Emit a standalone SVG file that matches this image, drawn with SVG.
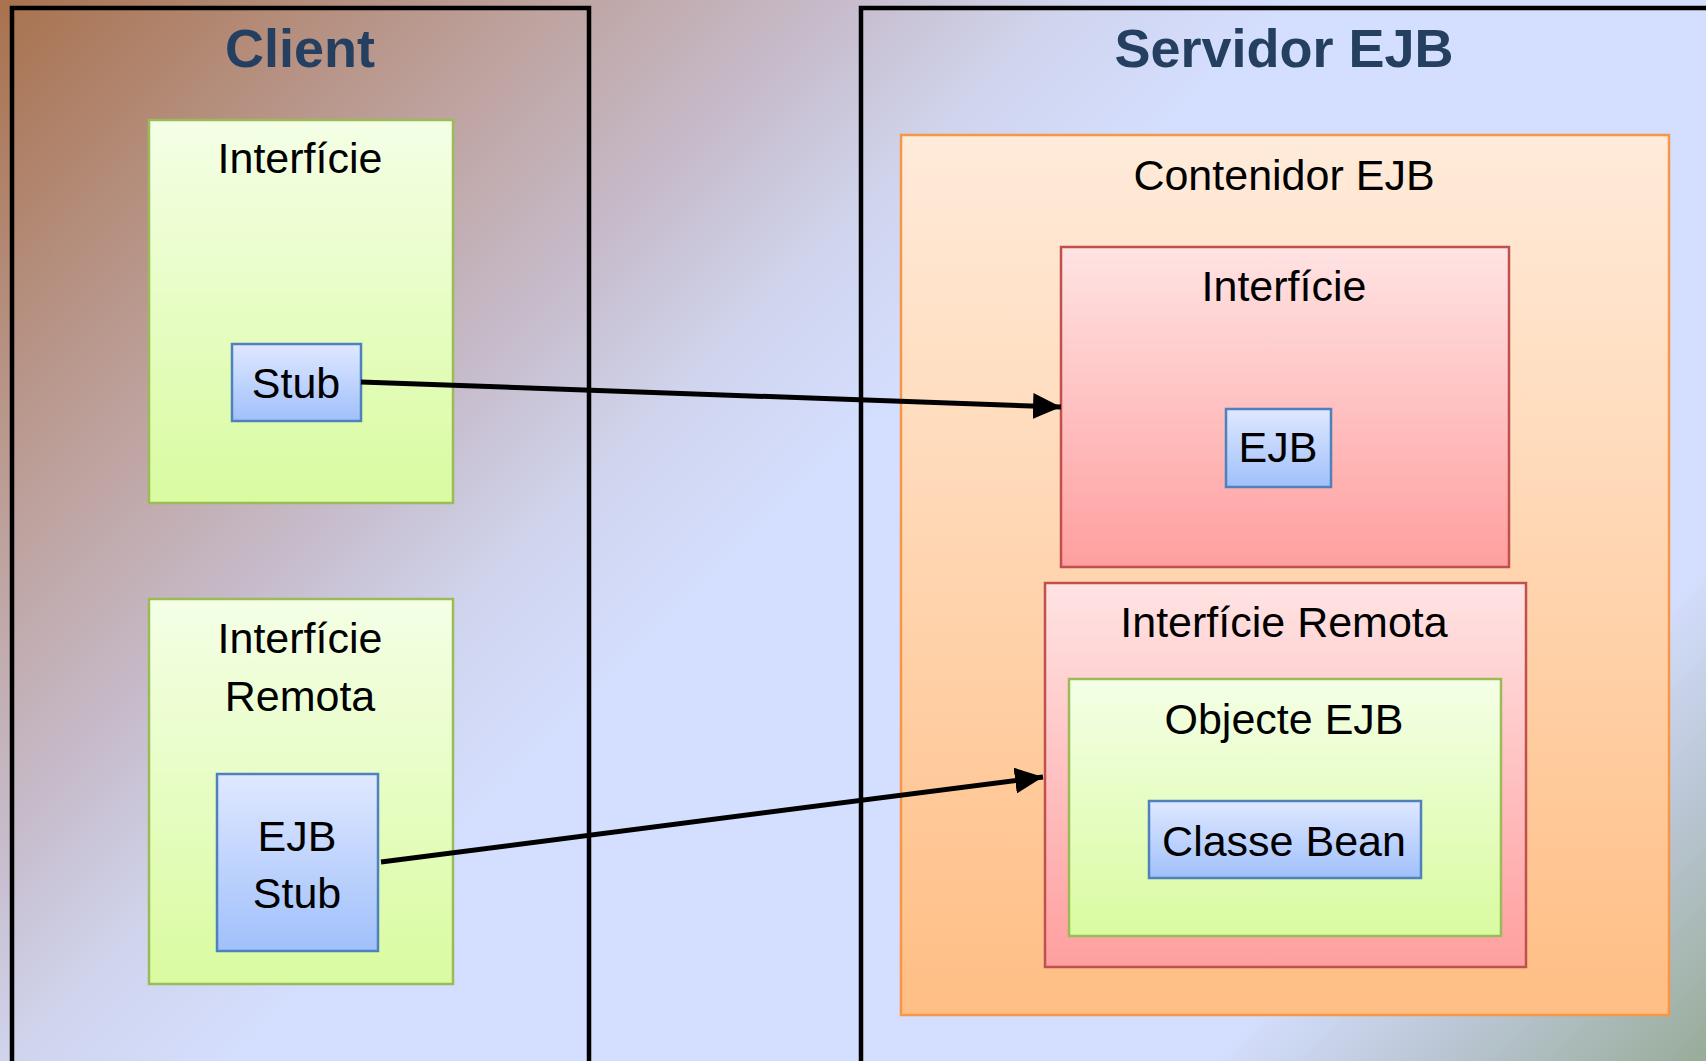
<svg xmlns="http://www.w3.org/2000/svg" width="1706" height="1061" viewBox="0 0 1706 1061">
<defs>
<linearGradient id="bg" gradientUnits="userSpaceOnUse" x1="0" y1="0" x2="1383.5" y2="1383.5">
<stop offset="0" stop-color="#A8724E"/>
<stop offset="0.21" stop-color="#BFA5A3"/>
<stop offset="0.31" stop-color="#C7BDCD"/>
<stop offset="0.39" stop-color="#D0D5EE"/>
<stop offset="0.47" stop-color="#D4DEFE"/>
<stop offset="0.82" stop-color="#D4DEFE"/>
<stop offset="0.9" stop-color="#BAC6D4"/>
<stop offset="1" stop-color="#98AC98"/>
</linearGradient>
<linearGradient id="gGreen" x1="0" y1="0" x2="0" y2="1">
<stop offset="0" stop-color="#F4FFE6"/>
<stop offset="1" stop-color="#D9FBA0"/>
</linearGradient>
<linearGradient id="gBlue" x1="0" y1="0" x2="0" y2="1">
<stop offset="0" stop-color="#DFE8FF"/>
<stop offset="1" stop-color="#A0C0FB"/>
</linearGradient>
<linearGradient id="gOrange" x1="0" y1="0" x2="0" y2="1">
<stop offset="0" stop-color="#FFEBDA"/>
<stop offset="1" stop-color="#FFBE84"/>
</linearGradient>
<linearGradient id="gRed" x1="0" y1="0" x2="0" y2="1">
<stop offset="0" stop-color="#FFE3E3"/>
<stop offset="1" stop-color="#FF9F9F"/>
</linearGradient>
<marker id="arrow" markerUnits="userSpaceOnUse" markerWidth="28" markerHeight="26" refX="28" refY="13" orient="auto">
<path d="M0,0 L28,13 L0,26 Z" fill="#000"/>
</marker>
<style>
.title{font-family:"Liberation Sans",Arial,sans-serif;font-weight:bold;font-size:54px;fill:#243F60;text-anchor:middle}
.lbl{font-family:"Liberation Sans",Arial,sans-serif;font-size:43px;fill:#000;text-anchor:middle}
.green{fill:url(#gGreen);stroke:#9BBB59;stroke-width:2.5}
.blue{fill:url(#gBlue);stroke:#4F81BD;stroke-width:2.5}
.orange{fill:url(#gOrange);stroke:#F79646;stroke-width:2.5}
.red{fill:url(#gRed);stroke:#C0504D;stroke-width:2.5}
.frame{fill:none;stroke:#000;stroke-width:4.5}
.conn{stroke:#000;stroke-width:5;fill:none}
</style>
</defs>
<rect x="0" y="0" width="1706" height="1061" fill="url(#bg)"/>

<g id="client">
<rect class="frame" x="12" y="8" width="577" height="1110"/>
<text class="title" x="300" y="67">Client</text>
</g>

<g id="servidor">
<rect class="frame" x="861" y="8" width="900" height="1110"/>
<text class="title" x="1284" y="67">Servidor EJB</text>
</g>

<g id="client-interficie">
<rect class="green" x="149" y="120" width="304" height="383"/>
<text class="lbl" x="300" y="173">Interfície</text>
</g>

<g id="stub">
<rect class="blue" x="232" y="344" width="129" height="77"/>
<text class="lbl" x="296" y="398">Stub</text>
</g>

<g id="client-interficie-remota">
<rect class="green" x="149" y="599" width="304" height="385"/>
<text class="lbl" x="300" y="653">Interfície</text>
<text class="lbl" x="300" y="711">Remota</text>
</g>

<g id="ejb-stub">
<rect class="blue" x="217" y="774" width="161" height="177"/>
<text class="lbl" x="297" y="851">EJB</text>
<text class="lbl" x="297" y="908">Stub</text>
</g>

<g id="contenidor">
<rect class="orange" x="901" y="135" width="768" height="880"/>
<text class="lbl" x="1284" y="190">Contenidor EJB</text>
</g>

<g id="server-interficie">
<rect class="red" x="1061" y="247" width="448" height="320"/>
<text class="lbl" x="1284" y="301">Interfície</text>
</g>

<g id="ejb">
<rect class="blue" x="1226" y="409" width="105" height="78"/>
<text class="lbl" x="1278" y="462">EJB</text>
</g>

<g id="server-interficie-remota">
<rect class="red" x="1045" y="583" width="481" height="384"/>
<text class="lbl" x="1284" y="637">Interfície Remota</text>
</g>

<g id="objecte-ejb">
<rect class="green" x="1069" y="679" width="432" height="257"/>
<text class="lbl" x="1284" y="734">Objecte EJB</text>
</g>

<g id="classe-bean">
<rect class="blue" x="1149" y="801" width="272" height="77"/>
<text class="lbl" x="1284" y="856">Classe Bean</text>
</g>

<g id="connectors">
<line class="conn" x1="361" y1="382" x2="1061" y2="407" marker-end="url(#arrow)"/>
<line class="conn" x1="381" y1="862" x2="1043" y2="777" marker-end="url(#arrow)"/>
</g>
</svg>
